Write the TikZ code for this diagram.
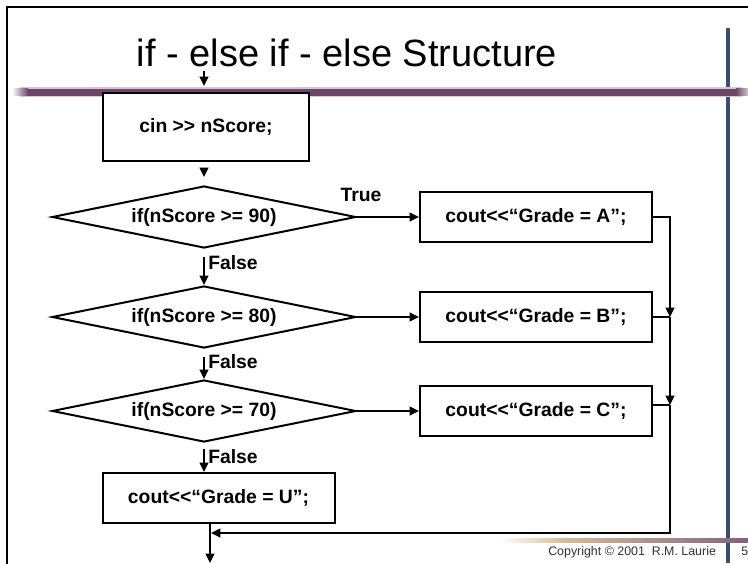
\documentclass[tikz,border=0pt]{standalone}
\usepackage{tikz}
\usepackage{fontspec}
\setmainfont{Liberation Sans}
\usetikzlibrary{shapes.geometric, arrows.meta}
\definecolor{barpurple}{RGB}{108,70,104}
\definecolor{barblue}{RGB}{60,78,106}
\definecolor{bartan}{RGB}{214,186,150}
\newcommand{\coutop}{cout<\kern0pt<}

\begin{document}
\begin{tikzpicture}[x=0.75pt, y=-0.75pt,
    stmt/.style={rectangle, draw=black, line width=1.5pt, fill=white, inner sep=0pt,
      font=\bfseries\fontsize{14.5}{17}\selectfont},
    outbox/.style={stmt, minimum width=174pt, minimum height=37.5pt},
    test/.style={diamond, draw=black, line width=1.5pt, fill=white, inner sep=0pt, aspect=4.9,
      minimum width=228pt, minimum height=46.5pt, font=\bfseries\fontsize{14.5}{17}\selectfont},
    lbl/.style={inner sep=0pt, font=\bfseries\fontsize{14.5}{17}\selectfont},
    flow/.style={line width=1.5pt, -{Triangle[length=7pt, width=6.5pt]}}]
  \useasboundingbox (0,0) rectangle (748,563);
  \clip (0,0) rectangle (748,563);
  \fill[white] (0,0) rectangle (748,563);
  \draw[line width=1.5pt] (7,7) rectangle (790,610);

  \fill[barblue] (726,28) rectangle (730,563);
  \fill[barpurple!30] (20,87.5) rectangle (742,97.5);
  \fill[barpurple] (28,89) rectangle (736,96);
  \shade[left color=white, right color=barpurple] (12,89) rectangle (28,96);
  \shade[left color=barpurple, right color=gray!40] (736,89) rectangle (748,96);
  \shade[left color=white, right color=bartan] (500,538) rectangle (565,542);
  \shade[left color=bartan, right color=barpurple!85] (565,538) rectangle (748,542);

  \node[anchor=base, font=\fontsize{28.5}{32}\selectfont] (title) at (347,67) {if - else if - else Structure};

  \node[stmt, minimum width=154.5pt, minimum height=51pt] (read) at (206,127) {cin >\kern0pt> nScore;};
  \node[test] (ge90) at (204,217) {if(nScore >= 90)};
  \node[test] (ge80) at (204,317) {if(nScore >= 80)};
  \node[test] (ge70) at (204,411) {if(nScore >= 70)};
  \node[outbox] (gradeA) at (536,217) {\coutop“Grade = A”;};
  \node[outbox] (gradeB) at (536,317) {\coutop“Grade = B”;};
  \node[outbox] (gradeC) at (536,411) {\coutop“Grade = C”;};
  \node[outbox] (gradeU) at (218.5,498) {\coutop“Grade = U”;};

  \node[lbl] (true) at (361,195) {True};
  \node[lbl, anchor=west] (no90) at (208,263) {False};
  \node[lbl, anchor=west] (no80) at (208,362) {False};
  \node[lbl, anchor=west] (no70) at (208,457) {False};

  \coordinate (entry) at (204,71);
  \coordinate (jA) at (670,217);
  \coordinate (jB) at (670,317);
  \coordinate (jC) at (670,405);
  \coordinate (jD) at (670,533);
  \coordinate (done) at (210,563);

  \draw[flow, shorten >=4.5pt] (entry) -- (entry |- read.north);
  \draw[flow, shorten <=4.5pt, shorten >=6pt] (read.south -| ge90.north) -- (ge90.north);
  \draw[flow, shorten <=6pt] (ge90.south) -- (ge80.north);
  \draw[flow, shorten <=6pt] (ge80.south) -- (ge70.north);
  \draw[flow, shorten <=4.5pt] (ge70.south) -- (ge70.south |- gradeU.north);

  \draw[flow] (ge90.east) -- (gradeA.west);
  \draw[flow] (ge80.east) -- (gradeB.west);
  \draw[flow] (ge70.east) -- (gradeC.west);

  \draw[flow] (gradeA.east) -- (jA) -- (jB);
  \draw[line width=1.5pt] (gradeB.east) -- (jB);
  \draw[flow] (jB) -- (jC);
  \draw[line width=1.5pt] (gradeC.east |- jC) -- (jC);
  \draw[flow, shorten >=0.75pt] (jC) -- (jD) -- (jD -| done);
  \draw[flow] (gradeU.south -| done) -- (done);

  \node[anchor=base west, inner sep=0pt, text=black!80, font=\fontsize{9.3}{11}\selectfont] (copy) at (548,555) {Copyright © 2001\ \ R.M. Laurie};
  \node[anchor=base west, inner sep=0pt, text=black!80, font=\fontsize{9.3}{11}\selectfont] (page) at (741,555) {5};
\end{tikzpicture}
\end{document}
